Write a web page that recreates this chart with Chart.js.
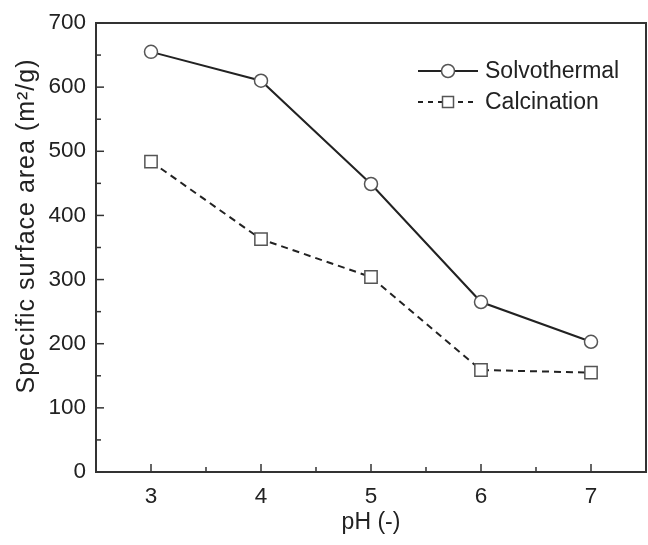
<!DOCTYPE html>
<html>
<head>
<meta charset="utf-8">
<script src="https://cdn.jsdelivr.net/npm/chart.js@4.4.1/dist/chart.umd.min.js"></script>
<style>
  html, body { margin: 0; padding: 0; background: #fff; }
  #wrap { width: 648px; height: 545px; }
</style>
</head>
<body>
<div id="wrap"><canvas id="betChart" width="648" height="545"></canvas></div>
<script>
// pH values and surface areas (m2/g)
const phValues = [3, 4, 5, 6, 7]
const solvothermal = [655, 610, 449, 265, 203]
const calcination = [484, 363, 304, 159, 155]
const xTicks = [3, 4, 5, 6, 7]
const yTicks = [0, 100, 200, 300, 400, 500, 600, 700]
const yTitle = 'Specific surface area (m²/g)'

const FONT = 'Liberation Sans, Arial, sans-serif'
const INK = '#222'

// box, inward ticks (with minor ticks), y title and the legend inside the plot
const framePlugin = {
    id: 'frame',
    afterDraw(chart) {
        const ctx = chart.ctx
        const a = chart.chartArea
        const xs = chart.scales.x
        const ys = chart.scales.y
        ctx.save()
        ctx.strokeStyle = '#333'
        ctx.lineWidth = 2
        ctx.strokeRect(a.left, a.top, a.right - a.left, a.bottom - a.top)

        ctx.lineWidth = 1.5
        // y ticks: majors on the labelled values, minors halfway
        yTicks.forEach((v, i) => {
            const py = ys.getPixelForValue(v)
            ctx.beginPath(); ctx.moveTo(a.left, py); ctx.lineTo(a.left + 8, py); ctx.stroke()
            if (i < yTicks.length - 1) {
                const pm = ys.getPixelForValue((v + yTicks[i + 1]) / 2)
                ctx.beginPath(); ctx.moveTo(a.left, pm); ctx.lineTo(a.left + 5, pm); ctx.stroke()
            }
        })
        // x ticks
        xTicks.forEach((v, i) => {
            const px = xs.getPixelForValue(v)
            ctx.beginPath(); ctx.moveTo(px, a.bottom); ctx.lineTo(px, a.bottom - 8); ctx.stroke()
            const mids = [v - 0.5]
            if (i === xTicks.length - 1) mids.push(v + 0.5)
            mids.forEach(m => {
                const pm = xs.getPixelForValue(m)
                if (pm > a.left + 1 && pm < a.right - 1) {
                    ctx.beginPath(); ctx.moveTo(pm, a.bottom); ctx.lineTo(pm, a.bottom - 5); ctx.stroke()
                }
            })
        })

        // y axis title (the original is set a little wide and above centre)
        ctx.save()
        ctx.translate(27, a.top + 203)
        ctx.rotate(-Math.PI / 2)
        ctx.font = '25px ' + FONT
        ctx.letterSpacing = '1px'
        ctx.textAlign = 'center'
        ctx.textBaseline = 'middle'
        ctx.fillStyle = INK
        ctx.fillText(yTitle, 0, 0)
        ctx.restore()

        // legend: line sample with marker in the middle
        ctx.font = '23px ' + FONT
        ctx.textBaseline = 'middle'
        chart.data.datasets.forEach((ds, i) => {
            const y = a.top + 48 + i * 31
            const x0 = a.left + 322, x1 = a.left + 382
            ctx.strokeStyle = ds.borderColor
            ctx.lineWidth = ds.borderWidth
            ctx.setLineDash(ds.borderDash ? [5, 5] : [])
            ctx.beginPath(); ctx.moveTo(x0, y); ctx.lineTo(x1, y); ctx.stroke()
            ctx.setLineDash([])
            const mx = (x0 + x1) / 2
            ctx.fillStyle = '#fff'
            ctx.strokeStyle = ds.pointBorderColor
            ctx.lineWidth = ds.pointBorderWidth
            ctx.beginPath()
            if (ds.pointStyle === 'rect') {
                ctx.rect(mx - 5.5, y - 5.5, 11, 11)
            } else {
                ctx.arc(mx, y, 6.5, 0, Math.PI * 2)
            }
            ctx.fill(); ctx.stroke()
            ctx.fillStyle = INK
            ctx.fillText(ds.label, x1 + 7, y + 1)
        })
        ctx.restore()
    }
}

new Chart(
    document.getElementById('betChart'),
    {
        type: 'line',
        data: {
            datasets: [
                {
                    label: 'Solvothermal',
                    data: phValues.map((p, i) => ({ x: p, y: solvothermal[i] })),
                    borderColor: '#222',
                    borderWidth: 2,
                    pointStyle: 'circle',
                    pointRadius: 6.5,
                    pointBackgroundColor: '#fff',
                    pointBorderColor: '#555',
                    pointBorderWidth: 1.5
                },
                {
                    label: 'Calcination',
                    data: phValues.map((p, i) => ({ x: p, y: calcination[i] })),
                    borderColor: '#222',
                    borderWidth: 2,
                    borderDash: [7, 5],
                    pointStyle: 'rect',
                    pointRadius: 8.7,
                    pointBackgroundColor: '#fff',
                    pointBorderColor: '#555',
                    pointBorderWidth: 1.5
                }
            ]
        },
        options: {
            responsive: false,
            animation: false,
            layout: { autoPadding: false, padding: { top: 23, right: 2, left: 0, bottom: 0 } },
            plugins: {
                legend: { display: false },
                tooltip: { enabled: false }
            },
            scales: {
                x: {
                    type: 'linear',
                    min: 2.5,
                    max: 7.5,
                    afterBuildTicks: scale => { scale.ticks = xTicks.map(v => ({ value: v })) },
                    afterFit: scale => {
                        scale.height = 73
                        scale.paddingLeft = 0
                        scale.paddingRight = 0
                    },
                    grid: { display: false, drawTicks: false },
                    border: { display: false },
                    ticks: {
                        padding: 11,
                        color: INK,
                        font: { family: FONT, size: 22.5 }
                    },
                    title: {
                        display: true,
                        text: 'pH (-)',
                        color: INK,
                        padding: { top: 0, bottom: 9 },
                        font: { family: FONT, size: 23 }
                    }
                },
                y: {
                    min: 0,
                    max: 700,
                    afterBuildTicks: scale => { scale.ticks = yTicks.map(v => ({ value: v })) },
                    afterFit: scale => {
                        scale.width = 96
                        scale.paddingTop = 0
                        scale.paddingBottom = 0
                    },
                    grid: { display: false, drawTicks: false },
                    border: { display: false },
                    ticks: {
                        padding: 10,
                        color: INK,
                        font: { family: FONT, size: 22.5 }
                    },
                    title: { display: false }
                }
            }
        },
        plugins: [framePlugin]
    }
);
</script>
</body>
</html>
